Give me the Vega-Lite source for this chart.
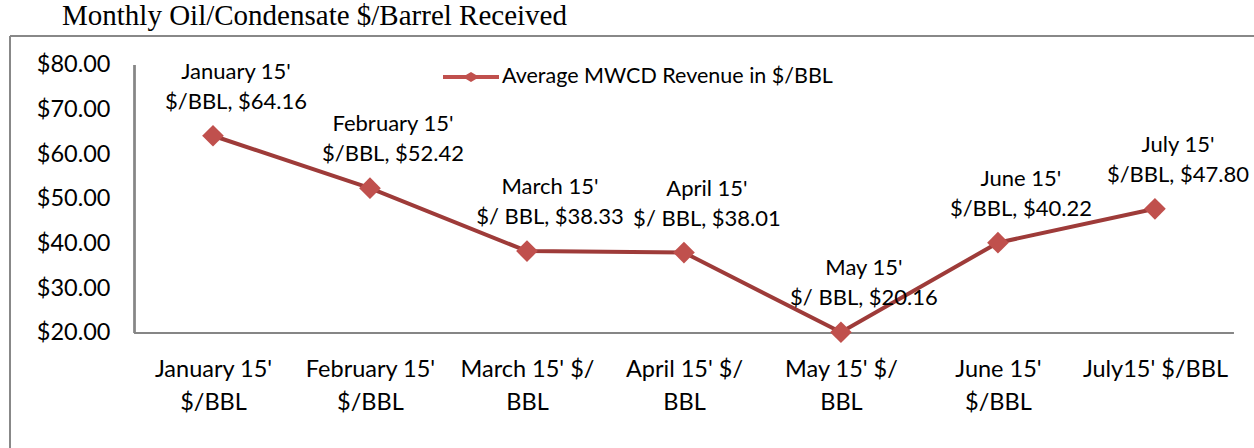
{
  "$schema": "https://vega.github.io/schema/vega-lite/v6.json",
  "autosize": "none",
  "width": 1244,
  "height": 412,
  "padding": {"left": 10, "top": 36, "right": 0, "bottom": 0},
  "background": "white",
  "title": {
    "text": "Monthly Oil/Condensate $/Barrel Received",
    "font": "Liberation Serif",
    "fontSize": 29,
    "fontWeight": "normal",
    "color": "#000000",
    "anchor": "start",
    "frame": "group",
    "baseline": "alphabetic",
    "offset": 8,
    "dx": 52,
    "dy": 27
  },
  "config": {
    "view": {"stroke": null},
    "font": "Lato"
  },
  "data": {
    "values": [
      {"idx": 1, "value": 64.16, "series": "Average MWCD Revenue in $/BBL", "label": "January 15'\n$/BBL, $64.16"},
      {"idx": 2, "value": 52.42, "series": "Average MWCD Revenue in $/BBL", "label": "February 15'\n$/BBL, $52.42"},
      {"idx": 3, "value": 38.33, "series": "Average MWCD Revenue in $/BBL", "label": "March 15'\n$/ BBL, $38.33"},
      {"idx": 4, "value": 38.01, "series": "Average MWCD Revenue in $/BBL", "label": "April 15'\n$/ BBL, $38.01"},
      {"idx": 5, "value": 20.16, "series": "Average MWCD Revenue in $/BBL", "label": "May 15'\n$/ BBL, $20.16"},
      {"idx": 6, "value": 40.22, "series": "Average MWCD Revenue in $/BBL", "label": "June 15'\n$/BBL, $40.22"},
      {"idx": 7, "value": 47.80, "series": "Average MWCD Revenue in $/BBL", "label": "July 15'\n$/BBL, $47.80"}
    ]
  },
  "encoding": {
    "x": {
      "field": "idx",
      "type": "quantitative",
      "scale": {"domain": [-0.293, 7.631], "nice": false, "zero": false},
      "axis": {
        "orient": "bottom",
        "offset": -115,
        "title": null,
        "domain": false,
        "ticks": false,
        "grid": false,
        "values": [1, 2, 3, 4, 5, 6, 7],
        "labelExpr": "[[\"January 15'\",\"$/BBL\"],[\"February 15'\",\"$/BBL\"],[\"March 15' $/\",\"BBL\"],[\"April 15' $/\",\"BBL\"],[\"May 15' $/\",\"BBL\"],[\"June 15'\",\"$/BBL\"],[\"July15' $/BBL\"]][datum.value - 1]",
        "labelFont": "Lato",
        "labelFontSize": 23.5,
        "labelColor": "#000000",
        "labelLineHeight": 33,
        "labelPadding": 24,
        "labelOverlap": false,
        "labelFlush": false,
        "labelBound": false
      }
    },
    "y": {
      "field": "value",
      "type": "quantitative",
      "scale": {"domain": [-5.75, 86.49], "nice": false, "zero": false},
      "axis": {
        "orient": "left",
        "offset": -125,
        "title": null,
        "domain": false,
        "ticks": false,
        "grid": false,
        "values": [20, 30, 40, 50, 60, 70, 80],
        "format": "$.2f",
        "labelFont": "Lato",
        "labelFontSize": 23.5,
        "labelColor": "#000000",
        "labelPadding": 25,
        "labelOverlap": false,
        "labelFlush": false,
        "labelBound": false
      }
    }
  },
  "layer": [
    {
      "mark": {"type": "rule", "color": "#888888", "strokeWidth": 2},
      "encoding": {
        "x": {"datum": -0.293, "type": "quantitative"},
        "y": {"datum": -5.75, "type": "quantitative"},
        "y2": {"datum": 86.49}
      }
    },
    {
      "mark": {"type": "rule", "color": "#888888", "strokeWidth": 2},
      "encoding": {
        "y": {"datum": 86.49, "type": "quantitative"},
        "x": {"datum": -0.293, "type": "quantitative"},
        "x2": {"datum": 7.631}
      }
    },
    {
      "mark": {"type": "rule", "color": "#868686", "strokeWidth": 1.5},
      "encoding": {
        "x": {"datum": 0.5, "type": "quantitative"},
        "y": {"datum": 20, "type": "quantitative"},
        "y2": {"datum": 80}
      }
    },
    {
      "mark": {"type": "rule", "color": "#868686", "strokeWidth": 1.5},
      "encoding": {
        "y": {"datum": 20, "type": "quantitative"},
        "x": {"datum": 0.5, "type": "quantitative"},
        "x2": {"datum": 7.5}
      }
    },
    {
      "mark": {"type": "line", "color": "#9E3B39", "strokeWidth": 4}
    },
    {
      "mark": {"type": "point", "shape": "diamond", "filled": true, "size": 470, "opacity": 1},
      "encoding": {
        "color": {
          "field": "series",
          "type": "nominal",
          "scale": {"range": ["#C0504D"]},
          "legend": {
            "title": null,
            "orient": "none",
            "legendX": 433,
            "legendY": 13,
            "symbolType": "M-1,-0.075H-0.18L0,-0.18L0.18,-0.075H1V0.075H0.18L0,0.18L-0.18,0.075H-1Z",
            "symbolSize": 3136,
            "symbolFillColor": "#B0403E",
            "symbolStrokeWidth": 0,
            "symbolOpacity": 1,
            "labelFont": "Lato",
            "labelFontSize": 21.5,
            "labelColor": "#000000",
            "labelOffset": 3,
            "labelLimit": 500
          }
        }
      }
    },
    {
      "mark": {
        "type": "text",
        "font": "Lato",
        "fontSize": 22,
        "color": "#000000",
        "align": "center",
        "baseline": "bottom",
        "lineBreak": "\n",
        "lineHeight": 30,
        "dx": 23,
        "dy": -52
      },
      "encoding": {
        "text": {"field": "label", "type": "nominal"}
      }
    }
  ]
}
